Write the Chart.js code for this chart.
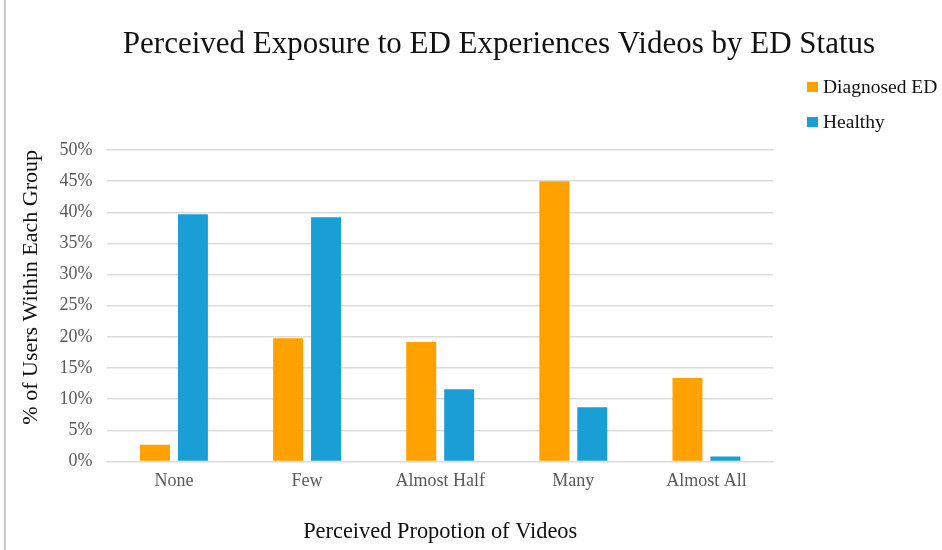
<!DOCTYPE html>
<html>
<head>
<meta charset="utf-8">
<script src="https://cdn.jsdelivr.net/npm/chart.js@4.4.1/dist/chart.umd.min.js"></script>
<style>
  html, body { margin: 0; padding: 0; background: #fff; }
  #wrap { position: relative; width: 942px; height: 550px; }
  #edge { position: absolute; left: 4px; top: 0; width: 2px; height: 550px; background: #c9c9c9; }
</style>
</head>
<body>
<div id="wrap">
  <canvas id="chart" width="942" height="550"></canvas>
  <div id="edge"></div>
</div>
<script>
const categories = ['None', 'Few', 'Almost Half', 'Many', 'Almost All'];
const diagnosedED = [2.7, 19.8, 19.2, 45.0, 13.4];
const healthy = [39.7, 39.2, 11.6, 8.7, 0.8];
const seriesNames = ['Diagnosed ED', 'Healthy'];
const seriesColors = ['#FFA200', '#199ED5'];
const chartTitle = 'Perceived Exposure to ED Experiences Videos by ED Status';

const serif = '"Liberation Serif", "Times New Roman", serif';

// title across the whole page and legend in the top right corner
const headerAndLegend = {
    id: 'headerAndLegend',
    afterDraw(chart) {
        const c = chart.ctx;
        c.save();
        c.textBaseline = 'middle';
        c.textAlign = 'center';
        c.fillStyle = '#111';
        c.font = '31px ' + serif;
        c.fillText(chartTitle, 499, 45);

        c.font = '19.5px ' + serif;
        c.textAlign = 'left';
        chart.data.datasets.forEach((ds, i) => {
            const y = 87 + i * 35;
            c.fillStyle = ds.backgroundColor;
            c.fillRect(807, y - 5, 11, 10);
            c.fillStyle = '#111';
            c.fillText(ds.label, 823, y + 1);
        });
        c.restore();
    }
};

const ctx = document.getElementById('chart').getContext('2d');

new Chart(ctx, {
    type: 'bar',
    data: {
        labels: categories,
        datasets: [
            {
                label: seriesNames[0],
                data: diagnosedED,
                backgroundColor: seriesColors[0],
                barPercentage: 0.79,
                categoryPercentage: 0.57
            },
            {
                label: seriesNames[1],
                data: healthy,
                backgroundColor: seriesColors[1],
                barPercentage: 0.79,
                categoryPercentage: 0.57
            }
        ]
    },
    options: {
        responsive: false,
        animation: false,
        layout: {
            padding: { left: 18, right: 169, top: 150, bottom: 4 }
        },
        plugins: {
            legend: { display: false },
            tooltip: { enabled: false },
            title: { display: false }
        },
        scales: {
            x: {
                grid: { display: false },
                border: { display: false },
                ticks: {
                    color: '#595959',
                    font: { family: serif, size: 18 },
                    padding: 1
                },
                title: {
                    display: true,
                    text: 'Perceived Propotion of Videos',
                    color: '#111',
                    font: { family: serif, size: 22.4 },
                    padding: { top: 26, bottom: 0 }
                }
            },
            y: {
                min: 0,
                max: 50,
                border: { display: false },
                grid: {
                    color: '#dcdcdc',
                    lineWidth: 1.5,
                    drawTicks: false
                },
                ticks: {
                    stepSize: 5,
                    color: '#595959',
                    font: { family: serif, size: 18 },
                    padding: 15,
                    callback: v => v + '%'
                },
                title: {
                    display: true,
                    align: 'end',
                    text: '% of Users Within Each Group',
                    color: '#111',
                    font: { family: serif, size: 22 },
                    padding: { top: 0, bottom: 0 }
                }
            }
        }
    },
    plugins: [headerAndLegend]
});
</script>
</body>
</html>
